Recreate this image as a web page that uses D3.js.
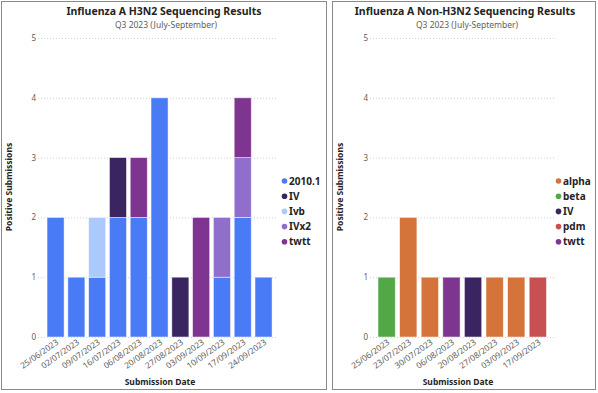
<!DOCTYPE html>
<html><head><meta charset="utf-8">
<script src="https://cdn.jsdelivr.net/npm/d3@7"></script>
<style>
body{margin:0;background:#fff;}
svg{display:block;font-family:"Noto Sans",sans-serif;}
</style></head><body>
<svg id="c" width="598" height="393"></svg>
<script>
// ---- Data ----
const h3Dates = ["25/06/2023","02/07/2023","09/07/2023","16/07/2023","06/08/2023","20/08/2023","27/08/2023","03/09/2023","10/09/2023","17/09/2023","24/09/2023"];
const h3Series = ["2010.1","IV","Ivb","IVx2","twtt"];
const h3_2010_1 = [2,1,1,2,2,4,0,0,1,2,1];
const h3_IV     = [0,0,0,1,0,0,1,0,0,0,0];
const h3_Ivb    = [0,0,1,0,0,0,0,0,0,0,0];
const h3_IVx2   = [0,0,0,0,0,0,0,0,1,1,0];
const h3_twtt   = [0,0,0,0,1,0,0,2,0,1,0];
const h3Colors  = ["#4a7bf7","#3a2560","#abc9fb","#8f6ecc","#7e358f"];

const nhDates = ["25/06/2023","23/07/2023","30/07/2023","06/08/2023","20/08/2023","27/08/2023","03/09/2023","17/09/2023"];
const nhSeries = ["alpha","beta","IV","pdm","twtt"];
const nh_alpha = [0,2,1,0,0,1,1,0];
const nh_beta  = [1,0,0,0,0,0,0,0];
const nh_IV    = [0,0,0,0,1,0,0,0];
const nh_pdm   = [0,0,0,0,0,0,0,1];
const nh_twtt  = [0,0,0,1,0,0,0,0];
const nhColors = ["#d4733a","#53a846","#3a2560","#c75052","#7e358f"];

const yTicks = [0,1,2,3,4,5];

const svg = d3.select("#c");

function panel(cfg){
  const g = svg.append("g");
  // border
  g.append("rect").attr("x",cfg.bx+0.5).attr("y",1.5).attr("width",cfg.bw).attr("height",388)
    .attr("fill","none").attr("stroke","#8a8a8a").attr("stroke-width",1);
  g.append("text").attr("x",cfg.tcx).attr("y",15).attr("text-anchor","middle")
    .attr("font-size",10.5).attr("font-weight","bold").attr("fill","#252423").text(cfg.title);
  g.append("text").attr("x",cfg.tcx+2).attr("y",28).attr("text-anchor","middle")
    .attr("font-size",8.5).attr("fill","#605e5c").text("Q3 2023 (July-September)");

  const y = d3.scaleLinear().domain([0,5]).range([337,38]);
  const x = d3.scaleBand().domain(cfg.dates).range(cfg.xr).paddingInner(cfg.pad).paddingOuter(cfg.pad);

  // gridlines
  g.append("g").selectAll("line").data(yTicks).join("line")
    .attr("x1",cfg.gx0).attr("x2",cfg.gx1).attr("y1",d=>y(d)+0.5).attr("y2",d=>y(d)+0.5)
    .attr("stroke","#d0d0d0").attr("stroke-dasharray","1,2");
  // y axis
  const ya = g.append("g").attr("transform",`translate(${cfg.gx0-2},0)`)
    .call(d3.axisLeft(y).tickValues(yTicks).tickFormat(d3.format("d")).tickSize(0).tickPadding(0));
  ya.select(".domain").remove();
  ya.selectAll("text").attr("font-size",8).attr("fill","#605e5c").attr("font-family","Noto Sans").attr("dy","0.3em");

  // stacked bars
  const rows = cfg.dates.map((d,i)=>{const o={date:d}; cfg.series.forEach((s,j)=>o[s]=cfg.values[j][i]); return o;});
  const stack = d3.stack().keys(cfg.series)(rows);
  g.append("g").selectAll("g").data(stack).join("g").attr("fill",(d,i)=>cfg.colors[i])
    .selectAll("rect").data(d=>d.filter(p=>p[1]>p[0])).join("rect")
    .attr("x",d=>x(d.data.date)).attr("width",x.bandwidth())
    .attr("y",d=>y(d[1])).attr("height",d=>y(d[0])-y(d[1]))
    .attr("stroke","#fff").attr("stroke-opacity",0.6).attr("stroke-width",0.8);

  // x axis labels
  const xa = g.append("g").attr("transform","translate(0,340)")
    .call(d3.axisBottom(x).tickSize(0).tickPadding(0));
  xa.select(".domain").remove();
  xa.selectAll("text").attr("font-size",8.3).attr("fill","#605e5c").attr("font-family","Noto Sans")
    .attr("text-anchor","end").attr("dy","0.6em").attr("dx","0.1em").attr("transform","rotate(-35)");

  // axis titles
  g.append("text").attr("transform",`translate(${cfg.ytx},187) rotate(-90)`).attr("text-anchor","middle")
    .attr("font-size",8.5).attr("font-weight","bold").attr("fill","#252423").text("Positive Submissions");
  g.append("text").attr("x",cfg.xtx).attr("y",385).attr("text-anchor","middle")
    .attr("font-size",8.5).attr("font-weight","bold").attr("fill","#252423").text("Submission Date");

  // legend
  const lg = g.append("g").selectAll("g").data(cfg.series).join("g")
    .attr("transform",(d,i)=>`translate(${cfg.lx},${181+i*15.2})`);
  lg.append("circle").attr("r",2.8).attr("fill",(d,i)=>cfg.colors[i]);
  lg.append("text").attr("x",4.5).attr("dy","0.35em").attr("font-size",10).attr("font-weight","bold")
    .attr("fill","#252423").text(d=>d);
}

panel({bx:1,bw:325,tcx:164,title:"Influenza A H3N2 Sequencing Results",
  dates:h3Dates,series:h3Series,values:[h3_2010_1,h3_IV,h3_Ivb,h3_IVx2,h3_twtt],colors:h3Colors,
  xr:[43.3,275.8],pad:0.18,gx0:38,gx1:278,ytx:12,xtx:160,lx:284.5});
panel({bx:332,bw:263,tcx:465,title:"Influenza A Non-H3N2 Sequencing Results",
  dates:nhDates,series:nhSeries,values:[nh_alpha,nh_beta,nh_IV,nh_pdm,nh_twtt],colors:nhColors,
  xr:[373.7,550.8],pad:0.2,gx0:370,gx1:555,ytx:343,xtx:458,lx:558.5});
</script>
</body></html>
